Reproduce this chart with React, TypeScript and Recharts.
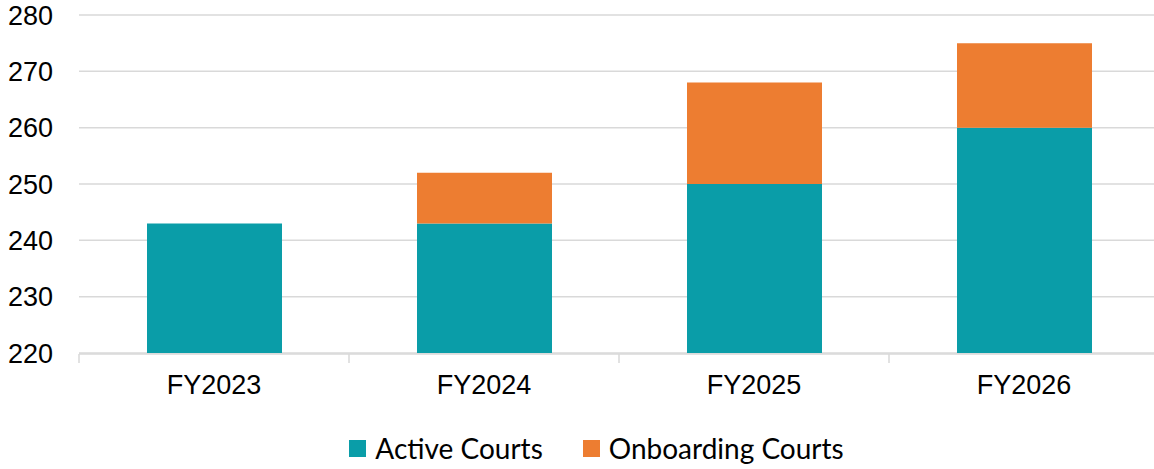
import React from 'react';
import { BarChart, Bar, XAxis, YAxis, CartesianGrid, Legend } from 'recharts';

const years = ['FY2023', 'FY2024', 'FY2025', 'FY2026'];
const activeCourts = [243, 243, 250, 260];
const onboardingCourts = [0, 9, 18, 15];
const yTicks = [220, 230, 240, 250, 260, 270, 280];
const edgeTicks = [0, 1, 2, 3, 4];

const TEAL = '#0A9DA8';
const ORANGE = '#ED7D31';
const GRID = '#D9D9D9';

const data = years.map((year, i) => ({
  year,
  pos: i + 0.5,
  active: activeCourts[i],
  onboarding: onboardingCourts[i],
}));

const LegendBox: React.FC<any> = () => (
  <div style={{ height: 36, display: 'flex', justifyContent: 'center', alignItems: 'center', gap: 40, fontFamily: 'Lato, sans-serif', fontSize: 28, color: '#000', paddingLeft: 34 }}>
    <span style={{ display: 'flex', alignItems: 'center', gap: 9 }}>
      <span style={{ width: 17, height: 17, background: TEAL, display: 'inline-block' }} />
      Active Courts
    </span>
    <span style={{ display: 'flex', alignItems: 'center', gap: 9 }}>
      <span style={{ width: 17, height: 17, background: ORANGE, display: 'inline-block' }} />
      Onboarding Courts
    </span>
  </div>
);

const EmptyTick = () => <g />;

export default function App() {
  return (
    <div style={{ position: 'absolute', left: 0, top: 0, width: 1154, height: 469, overflow: 'hidden', background: '#fff' }}>
      <BarChart
        width={1159}
        height={469}
        data={data}
        margin={{ top: 15, right: 0, left: 0, bottom: 3 }}
      >
        <CartesianGrid vertical={false} stroke={GRID} strokeWidth={1.5} />
        <XAxis
          dataKey="year"
          height={1}
          axisLine={false}
          tickLine={false}
          tickSize={0}
          tickMargin={22}
          tick={{ fontFamily: '"Liberation Sans", Arial, sans-serif', fontSize: 27, fill: '#000' }}
        />
        <XAxis
          xAxisId="edge"
          type="number"
          dataKey="pos"
          domain={[0, 4]}
          ticks={edgeTicks}
          interval={0}
          height={76}
          axisLine={{ stroke: GRID, strokeWidth: 1.5 }}
          tickLine={{ stroke: GRID, strokeWidth: 1.5 }}
          tickSize={9}
          tick={<EmptyTick />}
        />
        <YAxis
          domain={[220, 280]}
          allowDataOverflow
          ticks={yTicks}
          width={79}
          axisLine={false}
          tickLine={false}
          tickSize={0}
          tickMargin={26}
          tick={{ fontFamily: '"Liberation Sans", Arial, sans-serif', fontSize: 27, fill: '#000' }}
        />
        <Legend content={<LegendBox />} verticalAlign="bottom" />
        <Bar dataKey="active" stackId="a" fill={TEAL} barSize={135} isAnimationActive={false} />
        <Bar dataKey="onboarding" stackId="a" fill={ORANGE} barSize={135} isAnimationActive={false} />
      </BarChart>
    </div>
  );
}
